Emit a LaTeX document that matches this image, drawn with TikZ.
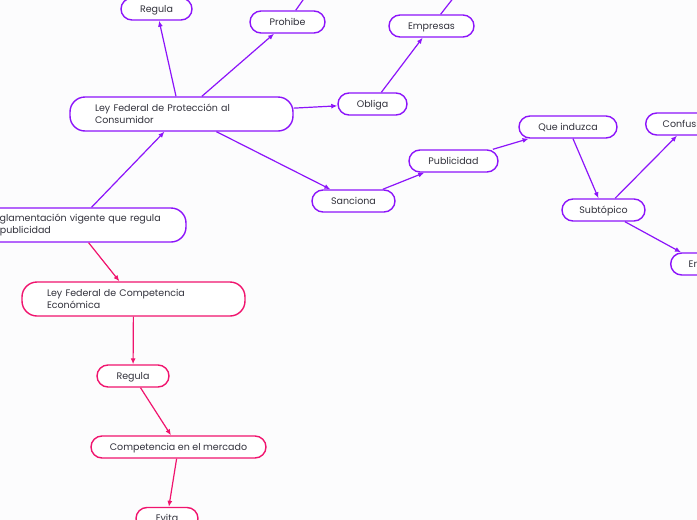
\documentclass[tikz,border=0pt]{standalone}
\usepackage{fontspec}
\setmainfont{Poppins}
\usetikzlibrary{arrows.meta}
\definecolor{pur}{RGB}{140,20,250}
\definecolor{pnk}{RGB}{240,20,110}
\definecolor{txt}{RGB}{50,50,60}
\definecolor{bg}{RGB}{252,252,253}
\begin{document}
\begin{tikzpicture}[x=1pt,y=-1pt,
 base/.style={draw=pur, line width=1.4pt, rounded corners=11pt, minimum height=22pt, inner sep=0pt, text=txt, font=\fontsize{9.5}{12}\selectfont, fill=white},
 box/.style={base, text height=6.6pt, text depth=0.6pt},
 pbox/.style={box, draw=pnk},
 big/.style={base, rounded corners=15pt, minimum height=34pt, text width=173pt, align=left, inner xsep=25pt},
 pbig/.style={big, draw=pnk},
 con/.style={draw=pur, line width=1.2pt, -{Latex[length=6pt,width=5pt]}},
 pcon/.style={con, draw=pnk},
 ocon/.style={draw=pur, line width=1.2pt}
]
\useasboundingbox (0,0) rectangle (697,520);
\clip (0,0) rectangle (697,520);
\fill[bg] (0,0) rectangle (697,520);

\node[box, minimum width=71pt] (regula) at (156.5,9) {Regula};
\node[box, minimum width=75pt] (prohibe) at (287.5,22) {Prohibe};
\node[box, minimum width=85pt] (empresas) at (431.5,26) {Empresas};
\node[box, minimum width=69pt] (obliga) at (372.5,104) {Obliga};
\node[big] (lpc) at (181.5,114) {Ley Federal de Protección al\\Consumidor};
\node[box, minimum width=83pt] (sanciona) at (353.5,201) {Sanciona};
\node[box, minimum width=89pt] (publicidad) at (453.5,161) {Publicidad};
\node[box, minimum width=98pt] (induzca) at (568,127) {Que induzca};
\node[box, minimum width=80pt, anchor=west, text width=60pt, align=left, inner xsep=17pt] (confus) at (645,124) {Confusión};
\node[box, minimum width=83pt] (subtopico) at (603.5,210) {Subtópico};
\node[box, minimum width=80pt, anchor=west, text width=60pt, align=left, inner xsep=18pt] (engano) at (670,264) {Engaño};
\node[big] (regl) at (74.5,225) {Reglamentación vigente que regula\\la publicidad};
\node[pbig] (lfce) at (133.5,299) {Ley Federal de Competencia\\Económica};
\node[pbox, minimum width=72pt] (regula2) at (133,376) {Regula};
\node[pbox, minimum width=175pt] (comp) at (178.5,447) {Competencia en el mercado};
\node[pbox, minimum width=62pt] (evita) at (167,518.5) {Evita};

\coordinate (o1) at (310,-10);
\coordinate (o2) at (458,-8);

\draw[con] (lpc.north -| 176,0) -- (regula);
\draw[con] (lpc) -- (prohibe);
\draw[con] (lpc) -- (obliga);
\draw[con] (lpc) -- (sanciona);
\draw[con] (obliga) -- (empresas);
\draw[con] (sanciona) -- (publicidad);
\draw[con] (publicidad) -- (induzca);
\draw[con] (induzca) -- (subtopico);
\draw[con] (subtopico) -- (confus.south west -| 677,0);
\draw[con] (subtopico) -- (engano.north west -| 681,0);
\draw[con] (regl) -- (lpc);
\draw[pcon] (regl) -- (lfce);
\draw[pcon] (lfce) -- (regula2);
\draw[pcon] (regula2) -- (comp);
\draw[pcon] (comp) -- (evita);
\draw[ocon] (prohibe) -- (o1);
\draw[ocon] (empresas) -- (o2);
\end{tikzpicture}
\end{document}
